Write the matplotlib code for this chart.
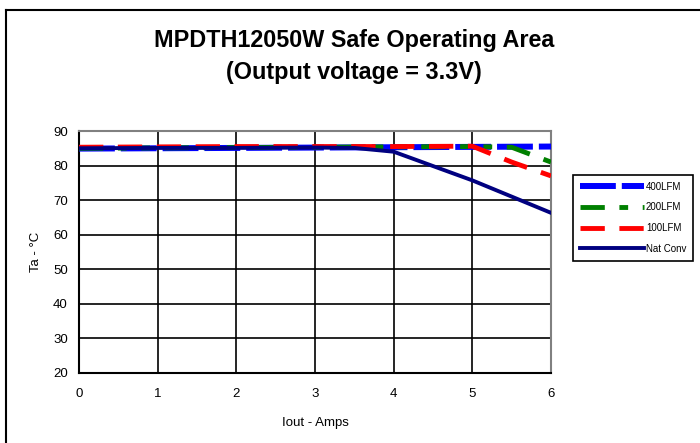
# -*- coding: utf-8 -*-
"""SOA curve MPDTH12050W, Vout = 3.3V (derating vs airflow)."""
import matplotlib; matplotlib.use('Agg')
import matplotlib.pyplot as plt
from matplotlib.lines import Line2D

plt.rcParams['font.family'] = ['Liberation Sans', 'DejaVu Sans']

# valores
x_400 = [0, 1, 2, 3, 4, 5, 6]
y_400 = [84.9, 85.0, 85.1, 85.2, 85.3, 85.4, 85.5]
x_200 = [0, 1, 2, 3, 4, 5, 5.5, 6]
y_200 = [85.0, 85.1, 85.2, 85.3, 85.4, 85.5, 85.3, 81.0]
x_100 = [0, 1, 2, 3, 4, 5, 5.5, 6]
y_100 = [85.3, 85.4, 85.5, 85.5, 85.5, 85.6, 81.0, 77.0]
x_nat = [0, 1, 2, 3, 3.5, 4, 5, 6]
y_nat = [85.0, 85.1, 85.1, 85.2, 85.1, 84.0, 75.7, 66.3]

W, H = 700, 443
fig = plt.figure(figsize=(W / 100, H / 100), dpi=100)
# moldura do chart (so topo e esquerda aparecem no recorte)
fig.add_artist(Line2D([5.5 / W, 5.5 / W], [0, 1 - 10 / H], transform=fig.transFigure, color='black', lw=1.5))
fig.add_artist(Line2D([5.5 / W, 1], [1 - 10 / H, 1 - 10 / H], transform=fig.transFigure, color='black', lw=1.5))

ax = fig.add_axes([79 / W, 1 - 372.7 / H, 472 / W, 241.7 / H])
ax.plot(x_400, y_400, color='#0000ff', lw=4.3, dashes=(6, 1), label='400LFM', zorder=3)
ax.plot(x_200, y_200, color='#008000', lw=3.5, dashes=(5, 3, 1.8, 3, 1.8, 3), label='200LFM', zorder=4)
ax.plot(x_100, y_100, color='#ff0000', lw=3.5, dashes=(5, 3), label='100LFM', zorder=5)
ax.plot(x_nat, y_nat, color='#000080', lw=2.8, label='Nat Conv', zorder=6)

ax.set_xlim(0, 6); ax.set_ylim(20, 90)
ax.set_xticks(range(0, 7)); ax.set_yticks(range(20, 91, 10))
ax.grid(True, color='black', lw=1.2)
ax.set_axisbelow(True)
ax.tick_params(length=0, labelsize=9.5)
ax.tick_params(axis='x', pad=11); ax.tick_params(axis='y', pad=8)
for s in ['left', 'bottom']:
    ax.spines[s].set_color('black'); ax.spines[s].set_linewidth(1.5)
for s in ['top', 'right']:
    ax.spines[s].set_color('#808080'); ax.spines[s].set_linewidth(1.5)
ax.set_xlabel('Iout - Amps', fontsize=9.5, labelpad=12)
ax.set_ylabel('Ta - °C', fontsize=9.5, labelpad=8)

fig.text(0.5 + 4 / W, 1 - 41 / H, 'MPDTH12050W Safe Operating Area', ha='center', va='center',
         fontsize=16.8, fontweight='bold')
fig.text(0.5 + 4 / W, 1 - 73 / H, '(Output voltage = 3.3V)', ha='center', va='center',
         fontsize=16.8, fontweight='bold')

leg = fig.legend(loc='upper left', bbox_to_anchor=(573 / W, 1 - 175 / H), fontsize=7,
                 handlelength=6.6, handletextpad=0.2, borderaxespad=0, borderpad=0.7,
                 labelspacing=1.1, fancybox=False, framealpha=1)
leg.get_frame().set_edgecolor('black'); leg.get_frame().set_linewidth(1.2)

plt.savefig('out.png', dpi=100)
